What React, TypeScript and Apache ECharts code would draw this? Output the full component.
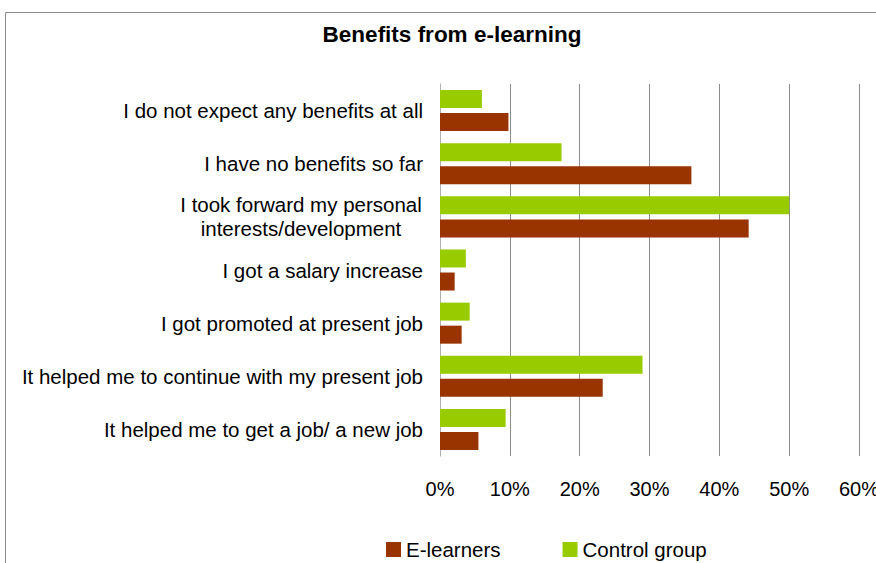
import React, { useEffect, useRef } from "react";
import * as echarts from "echarts";

const categories = [
  "I do not expect any benefits at all",
  "I have no benefits so far",
  "I took forward my personal\ninterests/development",
  "I got a salary increase",
  "I got promoted at present job",
  "It helped me to continue with my present job",
  "It helped me to get a job/ a new job",
];
const eLearners = [9.8, 36.0, 44.2, 2.1, 3.1, 23.3, 5.5];
const controlGroup = [6.0, 17.4, 50.0, 3.7, 4.25, 29.0, 9.4];
const seriesNames = ["E-learners", "Control group"];
const xTicks = { min: 0, max: 60, interval: 10 };

const FONT = "'Liberation Sans', Arial, sans-serif";

export default function App() {
  const ref = useRef<HTMLDivElement>(null);
  useEffect(() => {
    if (!ref.current) return;
    const chart = echarts.init(ref.current, null, { renderer: "svg" });
    chart.setOption({
      animation: false,
      backgroundColor: "#ffffff",
      title: {
        text: "Benefits from e-learning",
        left: 447,
        top: 18,
        textAlign: "center",
        textStyle: { fontFamily: FONT, fontSize: 22.5, fontWeight: "bold", color: "#000" },
      },
      graphic: [
        {
          type: "rect",
          shape: { x: 5.5, y: 12.5, width: 900, height: 600 },
          style: { fill: "none", stroke: "#8c8c8c", lineWidth: 1 },
          silent: true,
        },
      ],
      legend: {
        data: seriesNames,
        left: 386,
        top: 539,
        padding: 0,
        itemWidth: 15,
        itemHeight: 15,
        itemGap: 62,
        icon: "rect",
        textStyle: { fontFamily: FONT, fontSize: 20.5, color: "#000" },
      },
      grid: {
        left: 440,
        right: 17,
        top: 84,
        bottom: 107,
        containLabel: false,
        outerBoundsMode: "none",
      },
      xAxis: {
        type: "value",
        min: xTicks.min,
        max: xTicks.max,
        interval: xTicks.interval,
        axisLine: { show: false },
        axisTick: { show: false },
        splitLine: { show: true, lineStyle: { color: "#8c8c8c", width: 1 } },
        axisLabel: {
          formatter: "{value}%",
          fontFamily: FONT,
          fontSize: 20,
          color: "#000",
          margin: 23,
          hideOverlap: false,
        },
      },
      yAxis: {
        type: "category",
        data: categories,
        inverse: true,
        axisLine: { show: true, lineStyle: { color: "#b0b0b0", width: 1 } },
        axisTick: { show: false },
        axisLabel: {
          fontFamily: FONT,
          fontSize: 20.5,
          color: "#000",
          margin: 17,
          lineHeight: 24,
          formatter: (v: string) => {
            if (v.indexOf("\n") >= 0) {
              return v
                .split("\n")
                .map((s) => "{c|" + s + "}")
                .join("\n");
            }
            return v;
          },
          rich: {
            c: { fontFamily: FONT, fontSize: 20.5, color: "#000", width: 244, align: "center", lineHeight: 24 },
          },
        },
      },
      series: [
        {
          name: seriesNames[1],
          type: "bar",
          data: controlGroup,
          barWidth: 18,
          barGap: "28%",
          itemStyle: { color: "#99CC00" },
        },
        {
          name: seriesNames[0],
          type: "bar",
          data: eLearners,
          barWidth: 18,
          barGap: "28%",
          itemStyle: { color: "#993300" },
        },
      ],
    });
    return () => chart.dispose();
  }, []);
  return (
    <div
      ref={ref}
      style={{ position: "fixed", left: 0, top: 0, width: 876, height: 563 }}
    />
  );
}
